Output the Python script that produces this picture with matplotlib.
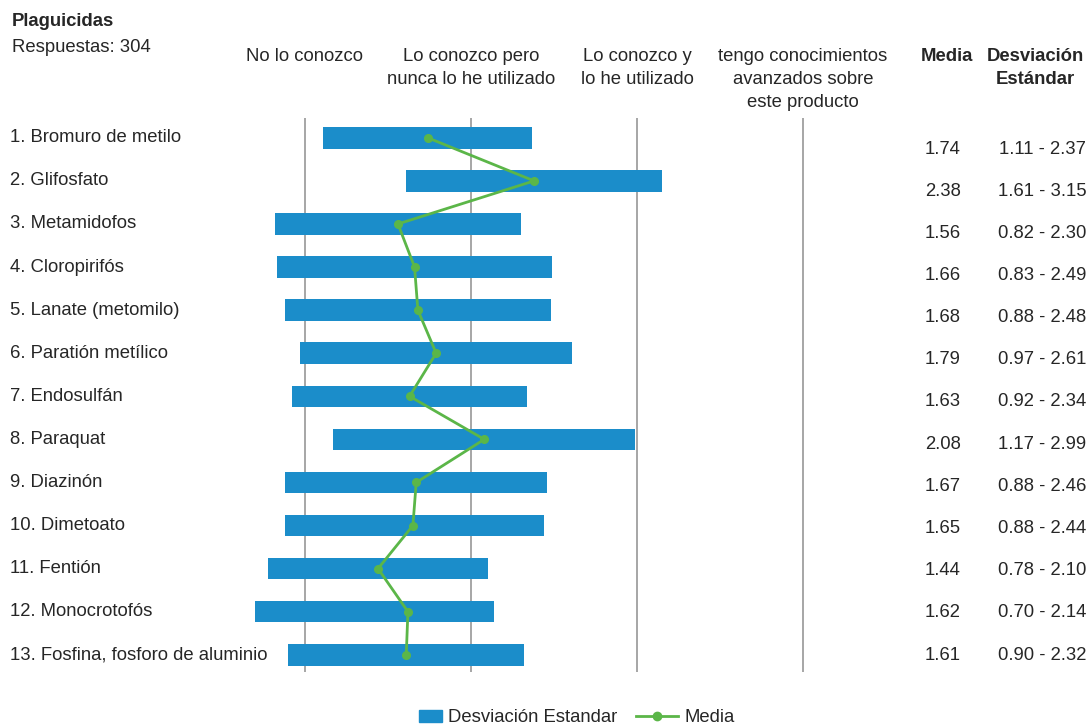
import numpy as np
import matplotlib.pyplot as plt
from matplotlib.transforms import blended_transform_factory
from matplotlib.lines import Line2D
from matplotlib.patches import Patch, Rectangle
from matplotlib.legend_handler import HandlerPatch

plt.rcParams['font.family'] = ['Liberation Sans', 'DejaVu Sans']

# datos
productos = [
    "1. Bromuro de metilo", "2. Glifosfato", "3. Metamidofos", "4. Cloropirifós",
    "5. Lanate (metomilo)", "6. Paratión metílico", "7. Endosulfán", "8. Paraquat",
    "9. Diazinón", "10. Dimetoato", "11. Fentión", "12. Monocrotofós",
    "13. Fosfina, fosforo de aluminio",
]
media = [1.74, 2.38, 1.56, 1.66, 1.68, 1.79, 1.63, 2.08, 1.67, 1.65, 1.44, 1.62, 1.61]
desv_min = [1.11, 1.61, 0.82, 0.83, 0.88, 0.97, 0.92, 1.17, 0.88, 0.88, 0.78, 0.70, 0.90]
desv_max = [2.37, 3.15, 2.30, 2.49, 2.48, 2.61, 2.34, 2.99, 2.46, 2.44, 2.10, 2.14, 2.32]
escala = [1, 2, 3, 4]
escala_labels = ["No lo conozco", "Lo conozco pero\nnunca lo he utilizado",
                 "Lo conozco y\nlo he utilizado",
                 "tengo conocimientos\navanzados sobre\neste producto"]

AZUL = "#1B8DCA"
VERDE = "#5BB648"
TEXTO = "#262626"
FS = 13.3

W, H = 1091, 728
fig = plt.figure(figsize=(W / 100, H / 100), dpi=100)


def fx(px):
    return px / W


def fy(py):
    return 1 - py / H


ax = fig.add_axes([fx(222), fy(672), fx(664), (672 - 118) / H])
y = np.arange(len(productos))

for v in escala:
    ax.axvline(v, color="#A6A6A6", lw=1.4, zorder=0)

ax.barh(y, np.array(desv_max) - np.array(desv_min), left=desv_min,
        height=0.5, color=AZUL, zorder=2)
ax.plot(media, y, color=VERDE, lw=2, marker="o", ms=5.5, zorder=3)

ax.set_xlim(0.5, 4.5)
ax.set_ylim(12.4, -0.46)
ax.axis("off")

# etiquetas de filas
tr = blended_transform_factory(fig.transFigure, ax.transData)
for i, nombre in enumerate(productos):
    ax.text(fx(10), i, nombre, transform=tr, ha="left", va="center",
            fontsize=FS, color=TEXTO)

# columnas de media y desviación
filas_px = np.linspace(149, 655, len(productos))
for i in range(len(productos)):
    fig.text(fx(943), fy(filas_px[i]), f"{media[i]:.2f}", ha="center",
             va="center", fontsize=FS, color=TEXTO)
    fig.text(fx(1042), fy(filas_px[i]), f"{desv_min[i]:.2f} - {desv_max[i]:.2f}",
             ha="center", va="center", fontsize=FS, color=TEXTO)

# encabezados
trh = blended_transform_factory(ax.transData, fig.transFigure)
for v, lab in zip(escala, escala_labels):
    ax.text(v, fy(48), lab, transform=trh, ha="center", va="top",
            fontsize=FS, color=TEXTO, linespacing=1.45)
fig.text(fx(947), fy(48), "Media", ha="center", va="top", fontsize=FS,
         fontweight="bold", color=TEXTO)
fig.text(fx(1035), fy(48), "Desviación\nEstándar", ha="center", va="top",
         fontsize=FS, fontweight="bold", color=TEXTO, linespacing=1.45)

fig.text(fx(12), fy(22), "Plaguicidas", ha="left", va="center", fontsize=FS,
         fontweight="bold", color=TEXTO)
fig.text(fx(12), fy(47), "Respuestas: 304", ha="left", va="center",
         fontsize=FS, color=TEXTO)


# rectángulo corto para la leyenda de la barra
def caja_corta(legend, orig_handle, xdescent, ydescent, width, height, fontsize):
    w = 16
    return Rectangle((width - w - xdescent, -ydescent + height * 0.5 - 4.3),
                     w, 8.6)


handles = [Patch(color=AZUL, label="Desviación Estandar"),
           Line2D([], [], color=VERDE, lw=2, marker="o", ms=6, label="Media")]
fig.legend(handles=handles, loc="center", bbox_to_anchor=(fx(567), fy(718)),
           ncol=2, frameon=False, fontsize=FS, handlelength=2.3,
           columnspacing=1.0, handletextpad=0.35, labelcolor=TEXTO,
           handler_map={Patch: HandlerPatch(patch_func=caja_corta)})

fig.savefig("out.png", dpi=100)
